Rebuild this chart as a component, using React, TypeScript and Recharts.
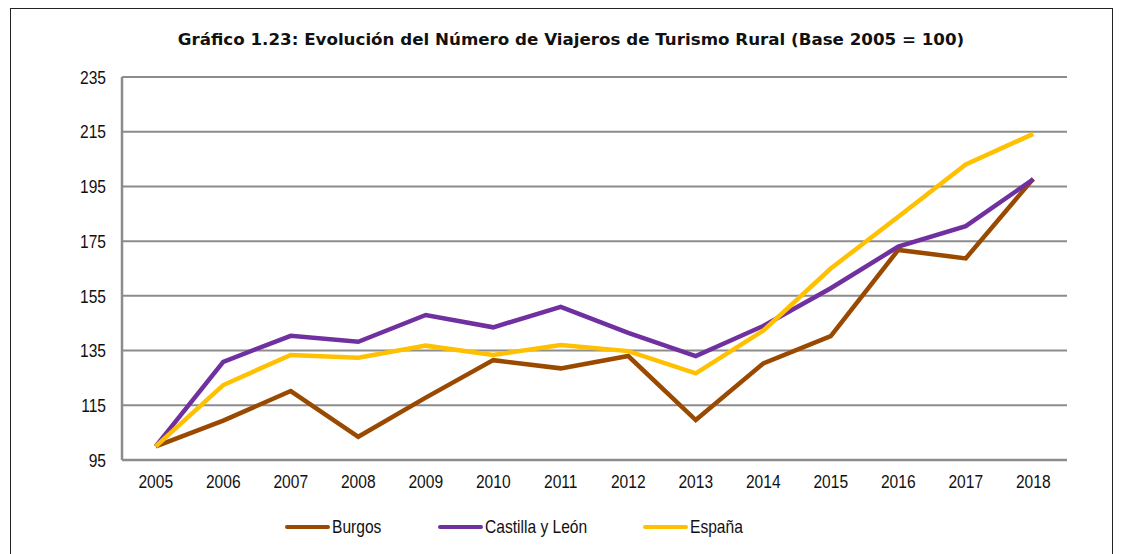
import React from "react";
import { LineChart, Line, XAxis, YAxis, CartesianGrid } from "recharts";

const years = ["2005","2006","2007","2008","2009","2010","2011","2012","2013","2014","2015","2016","2017","2018"];
const burgos = [100, 109.4, 120.2, 103.5, 117.8, 131.5, 128.5, 133, 109.6, 130.3, 140.3, 171.8, 168.7, 197.8];
const castilla = [100, 130.9, 140.4, 138.2, 148, 143.5, 151, 141.5, 133, 144, 157.8, 173, 180.5, 197.6];
const espana = [100, 122.4, 133.4, 132.4, 136.8, 133.4, 137, 134.8, 126.7, 142.3, 165, 183.9, 203, 214.2];
const yTicks = [95, 115, 135, 155, 175, 195, 215, 235];

const title = "Gráfico 1.23: Evolución del Número de Viajeros de Turismo Rural (Base 2005 = 100)";

const series = [
  { key: "Burgos", color: "#9A4A00", shrink: -12 },
  { key: "Castilla y León", color: "#7030A0", shrink: -25 },
  { key: "España", color: "#FFC000", shrink: -11 },
];

const data = years.map((y, i) => ({
  year: y,
  Burgos: burgos[i],
  "Castilla y León": castilla[i],
  "España": espana[i],
}));

const tickFont = "'Liberation Sans', Arial, sans-serif";
const grid = "#8C8C8C";
const SX = 0.82;

const XTick = (props: any) => {
  const { x, y, payload } = props;
  return (
    <g transform={`translate(${x},${y})`}>
      <text transform={`scale(${SX},1)`} textAnchor="middle" dy="0.71em" fill="#111" fontSize={19} fontFamily={tickFont}>
        {payload.value}
      </text>
    </g>
  );
};

const YTick = (props: any) => {
  const { x, y, payload } = props;
  return (
    <g transform={`translate(${x},${y})`}>
      <text transform={`scale(${SX},1)`} textAnchor="end" dy="0.355em" fill="#111" fontSize={19} fontFamily={tickFont}>
        {payload.value}
      </text>
    </g>
  );
};

export default function App() {
  return (
    <div style={{ position: "absolute", left: 0, top: 0, width: 1124, height: 554, background: "#fff", overflow: "hidden" }}>
      <div style={{ position: "absolute", left: 10, top: 8, width: 1103, height: 560, border: "1.5px solid #222", boxSizing: "border-box" }} />
      <div style={{ position: "absolute", left: 9, top: 29, width: 1124, textAlign: "center", fontFamily: "'DejaVu Sans', Verdana, sans-serif", fontWeight: "bold", fontSize: 16.7, color: "#111" }}>
        {title}
      </div>
      <div style={{ position: "absolute" }}>
        <LineChart width={1124} height={554} data={data} margin={{ top: 77, right: 57, bottom: 64, left: 82 }}>
          <CartesianGrid horizontal vertical={false} stroke={grid} strokeWidth={2} />
          <XAxis
            dataKey="year"
            padding={{ left: 33.75, right: 33.75 }}
            tickLine={false}
            tickSize={0}
            tickMargin={15}
            height={30}
            axisLine={{ stroke: grid, strokeWidth: 2.5 }}
            tick={<XTick />}
          />
          <YAxis
            domain={[95, 235]}
            ticks={yTicks}
            interval={0}
            width={40}
            tickLine={false}
            tickSize={0}
            tickMargin={16}
            axisLine={{ stroke: grid, strokeWidth: 2.5 }}
            tick={<YTick />}
          />
          <YAxis
            yAxisId="r"
            orientation="right"
            width={0}
            tick={false}
            tickLine={false}
            axisLine={{ stroke: grid, strokeWidth: 2.5 }}
          />
          {series.map((s) => (
            <Line
              key={s.key}
              type="linear"
              dataKey={s.key}
              stroke={s.color}
              strokeWidth={4.5}
              dot={false}
              activeDot={false}
              isAnimationActive={false}
            />
          ))}
        </LineChart>
      </div>
      <div style={{ position: "absolute", left: 0, top: 516, width: 1124, paddingRight: 96, boxSizing: "border-box", display: "flex", justifyContent: "center", gap: 58, fontFamily: tickFont, fontSize: 19, color: "#111" }}>
        {series.map((s) => (
          <div key={s.key} style={{ display: "flex", alignItems: "center" }}>
            <div style={{ width: 45, height: 4, background: s.color, borderRadius: 2, marginRight: 2 }} />
            <span style={{ display: "inline-block", transform: `scaleX(${SX})`, transformOrigin: "left center", marginRight: s.shrink }}>{s.key}</span>
          </div>
        ))}
      </div>
    </div>
  );
}
